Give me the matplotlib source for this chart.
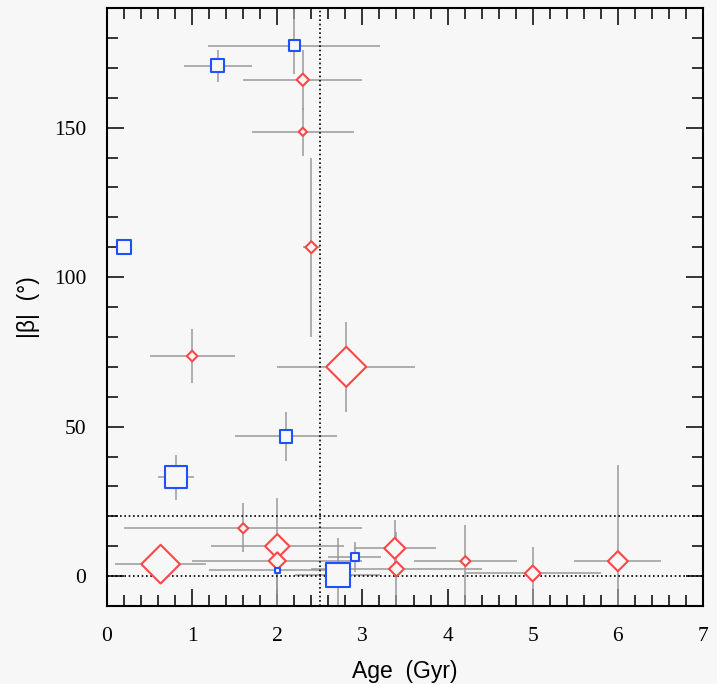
import numpy as np
import matplotlib
matplotlib.use("Agg")
import matplotlib.pyplot as plt
from matplotlib.ticker import MultipleLocator

# red diamonds: age, |beta|, errors and marker size
red_age = [2.30, 2.30, 2.40, 1.00, 2.81, 1.60, 2.00, 2.00, 0.63, 3.38, 3.40, 4.21, 5.00, 6.00]
red_beta = [166.0, 148.6, 110.0, 73.6, 70.0, 16.0, 10.0, 5.1, 4.0, 9.3, 2.4, 5.0, 0.9, 5.0]
red_xerr = [0.70, 0.60, 0.10, 0.50, 0.81, 1.40, 0.78, 1.00, 0.535, 0.48, 1.00, 0.60, 0.80, 0.51]
red_ylo = [10.0, 8.0, 30.0, 9.0, 15.0, 8.0, 16.0, 5.0, 0.0, 9.5, 12.4, 15.0, 11.0, 15.0]
red_yhi = [10.0, 8.0, 30.0, 9.0, 15.0, 8.3, 16.0, 5.0, 0.0, 9.5, 12.4, 12.0, 8.7, 32.0]
red_size = [6.3, 4.2, 6.1, 5.4, 20.4, 5.1, 12.4, 8.7, 19.7, 10.7, 7.6, 5.1, 8.1, 10.2]

# blue squares
blue_age = [2.20, 1.30, 0.20, 2.10, 0.81, 2.00, 2.71, 2.91]
blue_beta = [177.4, 170.7, 110.0, 46.7, 33.1, 2.0, 0.3, 6.3]
blue_xerr = [1.01, 0.40, 0.0, 0.60, 0.21, 0.80, 0.50, 0.31]
blue_ylo = [9.4, 5.3, 0.0, 8.3, 7.5, 12.0, 10.3, 5.0]
blue_yhi = [12.6, 5.3, 0.0, 8.3, 7.5, 4.0, 12.3, 5.0]
blue_size = [7.9, 9.1, 10.1, 8.9, 16.0, 3.4, 17.3, 5.5]

bg = "#f7f7f7"
red = "#ff4646"
blue = "#2050ff"
grey = "#9a9a9a"

fig = plt.figure(figsize=(7.17, 6.84), dpi=100, facecolor=bg)
ax = fig.add_axes([0.1492, 0.114, 0.8313, 0.8743], facecolor=bg)

ax.errorbar(red_age, red_beta, xerr=red_xerr, yerr=[red_ylo, red_yhi],
            fmt="none", ecolor=grey, elinewidth=1.1, capsize=0, zorder=2)
ax.errorbar(blue_age, blue_beta, xerr=blue_xerr, yerr=[blue_ylo, blue_yhi],
            fmt="none", ecolor=grey, elinewidth=1.1, capsize=0, zorder=2)

# reference lines
dots = (0, (1, 1.6))
ax.axvline(2.5, color="black", lw=1.2, ls=dots, zorder=2.5)
ax.axhline(20, color="black", lw=1.2, ls=dots, zorder=2.5)
ax.axhline(0, color="black", lw=1.2, ls=dots, zorder=2.5)

ax.scatter(red_age, red_beta, s=np.array(red_size) ** 2, marker="D",
           facecolors=bg, edgecolors=red, linewidths=1.5, zorder=3)
ax.scatter(blue_age, blue_beta, s=np.array(blue_size) ** 2, marker="s",
           facecolors=bg, edgecolors=blue, linewidths=1.5, zorder=3)

ax.set_xlim(0, 7)
ax.set_ylim(-10, 190)
ax.xaxis.set_major_locator(MultipleLocator(1))
ax.xaxis.set_minor_locator(MultipleLocator(0.2))
ax.yaxis.set_major_locator(MultipleLocator(50))
ax.yaxis.set_minor_locator(MultipleLocator(10))
ax.tick_params(which="both", direction="in", top=True, right=True,
               width=1.1, color="black")
ax.tick_params(which="major", length=12, pad=15)
ax.tick_params(which="minor", length=8)
for lab in ax.get_xticklabels() + ax.get_yticklabels():
    lab.set_fontfamily("Liberation Serif")
    lab.set_fontsize(15.5)
for sp in ax.spines.values():
    sp.set_linewidth(1.5)

ax.set_xlabel("Age  (Gyr)", fontsize=16.5, family="Liberation Sans", labelpad=10)
ax.set_ylabel("|β|  (°)", fontsize=16.5, family="Liberation Sans", labelpad=10)

fig.savefig("out.png", dpi=100, facecolor=bg)
